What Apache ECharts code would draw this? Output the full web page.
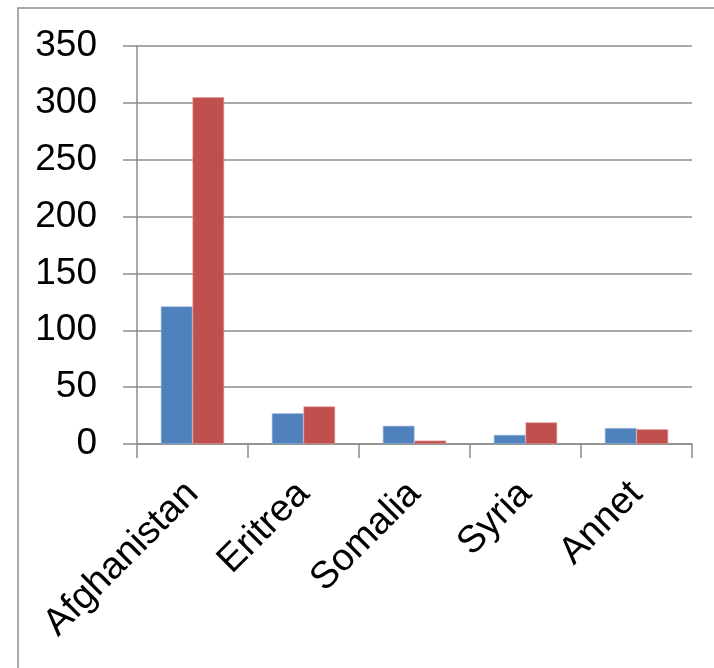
<!DOCTYPE html>
<html>
<head>
<meta charset="utf-8">
<script src="https://cdn.jsdelivr.net/npm/echarts@6/dist/echarts.min.js"></script>
<style>
html,body{margin:0;padding:0;background:#fff;}
#chart{width:714px;height:668px;}
</style>
</head>
<body>
<div id="chart"></div>
<script>
const categories = ["Afghanistan", "Eritrea", "Somalia", "Syria", "Annet"];
const seriesA = [121, 27, 16, 8, 14];
const seriesB = [305, 33, 3, 19, 13];
const yTicks = { min: 0, max: 350, interval: 50 };

const FONT = "Liberation Sans";
const chart = echarts.init(document.getElementById('chart'), null, { renderer: 'canvas' });
chart.setOption({
  animation: false,
  backgroundColor: '#ffffff',
  graphic: [{
    type: 'rect',
    shape: { x: 18, y: 8, width: 800, height: 800 },
    style: { fill: 'none', stroke: '#8c8c8c', lineWidth: 1.5 },
    silent: true
  }],
  grid: { left: 137, right: 22, top: 46, bottom: 224, containLabel: false },
  xAxis: {
    type: 'category',
    data: categories,
    boundaryGap: true,
    axisLine: { show: true, lineStyle: { color: '#8c8c8c', width: 1.5 } },
    axisTick: { show: true, length: 14, alignWithLabel: false, lineStyle: { color: '#8c8c8c', width: 1.5 } },
    axisLabel: { rotate: 45, margin: 44, color: '#000', fontFamily: FONT, fontSize: 38, interval: 0 },
    splitLine: { show: false }
  },
  yAxis: {
    type: 'value',
    min: yTicks.min, max: yTicks.max, interval: yTicks.interval,
    axisLine: { show: true, lineStyle: { color: '#8c8c8c', width: 1.5 } },
    axisTick: { show: true, length: 14, lineStyle: { color: '#8c8c8c', width: 1.5 } },
    axisLabel: { margin: 40, color: '#000', fontFamily: FONT, fontSize: 37 },
    splitLine: { show: true, lineStyle: { color: '#8c8c8c', width: 1.5 } }
  },
  series: [
    {
      type: 'bar', data: seriesA, barGap: '0%', barCategoryGap: '43%',
      itemStyle: { color: '#4F81BD', borderColor: '#9db6d8', borderWidth: 0.6 }
    },
    {
      type: 'bar', data: seriesB, barGap: '0%', barCategoryGap: '43%',
      itemStyle: { color: '#C0504D', borderColor: '#e0a09e', borderWidth: 0.6 }
    }
  ]
});
</script>
</body>
</html>
